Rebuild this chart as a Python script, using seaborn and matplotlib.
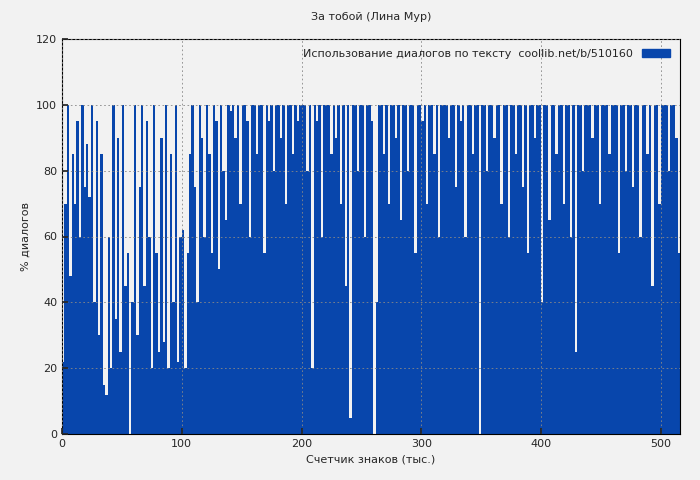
import numpy as np
import pandas as pd
import matplotlib
matplotlib.use("Agg")
import matplotlib.pyplot as plt
import seaborn as sns
from matplotlib.patches import Patch

title = "За тобой (Лина Мур)"
xlabel = "Счетчик знаков (тыс.)"
ylabel = "% диалогов"
legend_label = "Использование диалогов по тексту  coollib.net/b/510160"
bin_width = 2
values = [
 22,70,100,48,85,70,95,60,100,75,
 88,72,100,40,95,30,85,15,12,60,
 20,100,35,90,25,100,45,55,0,40,
 100,30,75,100,45,95,60,20,100,55,
 25,90,28,100,20,85,40,100,22,60,
 62,20,55,85,100,75,40,100,90,60,
 100,85,55,100,95,50,100,80,65,100,
 98,100,90,100,70,100,100,95,60,100,
 100,85,100,100,55,100,95,100,80,100,
 100,90,100,70,100,100,85,100,95,100,
 100,100,80,100,20,100,95,100,60,100,
 100,100,85,100,90,100,70,100,45,100,
 5,100,100,80,100,100,60,100,100,95,
 0,40,100,100,85,100,70,100,100,90,
 100,65,100,100,80,100,100,55,100,100,
 95,100,70,100,100,85,100,60,100,100,
 100,90,100,100,75,100,95,100,60,100,
 100,85,100,100,0,100,100,80,100,100,
 90,100,100,70,100,100,60,100,100,85,
 100,100,75,100,55,100,100,90,100,100,
 40,100,100,65,100,100,85,100,100,70,
 100,100,60,100,25,100,100,80,100,100,
 100,90,100,100,70,100,100,100,85,100,
 100,100,55,100,100,80,100,100,75,100,
 100,60,100,100,85,100,45,100,100,70,
 100,100,100,80,100,100,90,55,
]
color = "#0846ac"
df = pd.DataFrame({"x": np.arange(len(values)) * bin_width + bin_width / 2,
                   "v": values})

sns.set_theme(style="ticks")
plt.rcParams['font.family'] = ['DejaVu Sans']
fig = plt.figure(figsize=(7, 4.8), dpi=100, facecolor="#f2f2f2")
ax = fig.add_axes([62/700, 46/480, 618/700, 395/480])
ax.set_facecolor("#f2f2f2")
sns.histplot(data=df, x="x", weights="v", binwidth=bin_width,
             binrange=(0, len(values) * bin_width),
             color=color, alpha=1, linewidth=0, ax=ax)
ax.set_xlim(0, 516)
ax.set_ylim(0, 120)
ax.set_xticks([0, 100, 200, 300, 400, 500])
ax.set_yticks(range(0, 121, 20))
ax.grid(True, color="#888888", linestyle=(0, (2, 3)), linewidth=0.6)
ax.set_axisbelow(False)
for s in ax.spines.values():
    s.set_color("black"); s.set_linewidth(0.8)
ax.tick_params(labelsize=8, direction="in", length=4)
ax.set_title(title, fontsize=8, pad=14)
ax.set_xlabel(xlabel, fontsize=8)
ax.set_ylabel(ylabel, fontsize=8)
ax.legend(handles=[Patch(color=color, label=legend_label)], loc="upper right",
          fontsize=8, frameon=False, markerfirst=False, handlelength=2.5)
fig.savefig("out.png", dpi=100, facecolor=fig.get_facecolor())
